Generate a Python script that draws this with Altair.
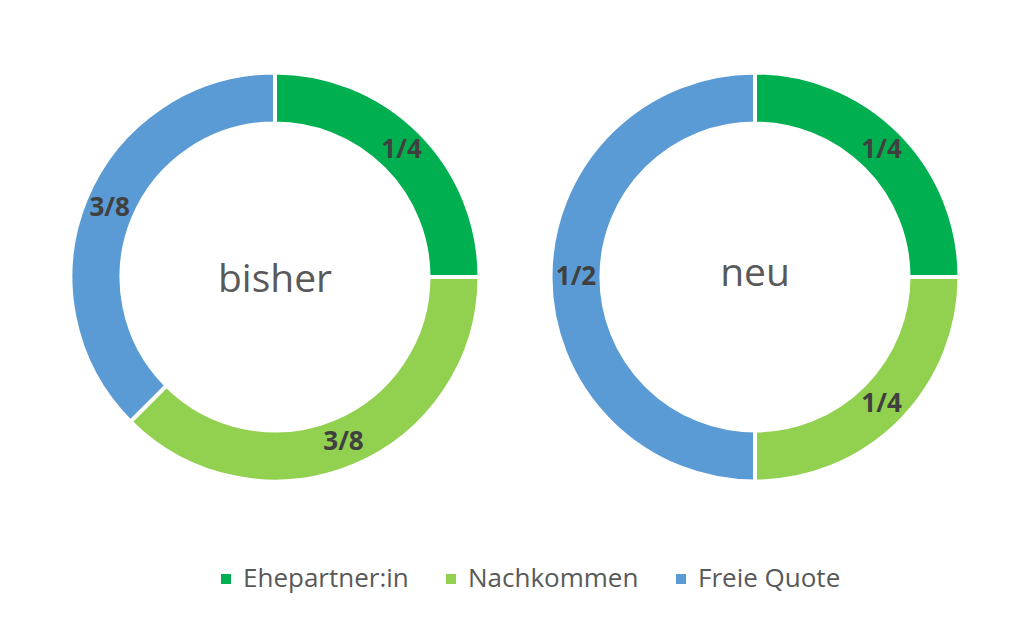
import altair as alt
import pandas as pd

# --- data ---
donuts = ["bisher", "bisher", "bisher", "neu", "neu", "neu"]
categories = ["Ehepartner:in", "Nachkommen", "Freie Quote",
              "Ehepartner:in", "Nachkommen", "Freie Quote"]
eighths = [2, 3, 3, 2, 2, 4]
labels = ["1/4", "3/8", "3/8", "1/4", "1/4", "1/2"]
order_idx = [0, 1, 2, 0, 1, 2]
centre_titles = ["bisher", "neu"]

legend_order = ["Ehepartner:in", "Nachkommen", "Freie Quote"]
palette = ["#00B050", "#92D050", "#5B9BD5"]

df = pd.DataFrame({
    "donut": donuts,
    "category": categories,
    "value": eighths,
    "label": labels,
    "idx": order_idx,
})

FONT = "Open Sans"


def panel(name, dy):
    base = alt.Chart(df).transform_filter(alt.datum.donut == name)
    arc = base.mark_arc(
        outerRadius=204.5, innerRadius=153.5, stroke="white", strokeWidth=4
    ).encode(
        theta=alt.Theta("value:Q", stack=True),
        order=alt.Order("idx:Q"),
        color=alt.Color(
            "category:N",
            scale=alt.Scale(domain=legend_order, range=palette),
            legend=alt.Legend(
                orient="none", legendX=148, legendY=499,
                direction="horizontal", title=None,
                symbolType="square", symbolSize=100, symbolStrokeWidth=0,
                labelFontSize=26, labelFont=FONT, labelColor="#595959",
                labelOffset=4, columnPadding=29, labelLimit=400,
            ),
        ),
    )
    txt = base.mark_text(
        radius=179, fontSize=26, fontWeight="bold", color="#404040", font=FONT
    ).encode(
        theta=alt.Theta("value:Q", stack=True),
        order=alt.Order("idx:Q"),
        detail="category:N",
        text="label:N",
    )
    centre = alt.Chart(pd.DataFrame({"t": [name]})).mark_text(
        fontSize=39, color="#595959", font=FONT, dy=dy
    ).encode(text="t:N")
    return alt.layer(arc, txt, centre).properties(width=420, height=420)


chart = alt.hconcat(
    panel(centre_titles[0], 3), panel(centre_titles[1], -3), spacing=54
).properties(
    padding={"left": 62, "top": 64, "right": 20, "bottom": 30}
).configure_view(stroke=None)

chart.save("out.html", embed_options={"renderer": "svg", "actions": False})
